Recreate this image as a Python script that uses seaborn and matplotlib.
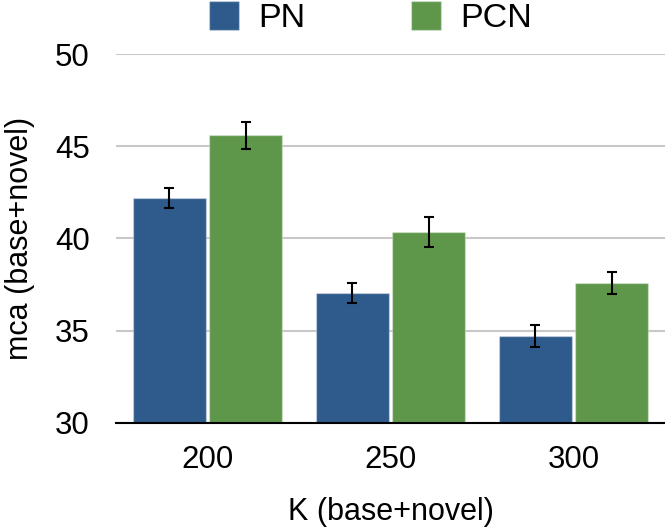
import pandas as pd
import seaborn as sns
from matplotlib import pyplot as plt

# values
k_values = ['200', '250', '300']
methods = ['PN', 'PCN']
pn_mca = [42.2, 37.05, 34.7]
pcn_mca = [45.6, 40.35, 37.6]
pn_err = [0.55, 0.55, 0.6]
pcn_err = [0.73, 0.82, 0.6]

colors = ['#2E5A8C', '#5E9749']

df = pd.DataFrame({
    'K': k_values * 2,
    'method': [methods[0]] * 3 + [methods[1]] * 3,
    'mca': pn_mca + pcn_mca,
    'err': pn_err + pcn_err,
})

sns.set_style('white')
plt.rcParams['font.family'] = ['Liberation Sans', 'DejaVu Sans']
plt.rcParams['text.color'] = 'black'
plt.rcParams['axes.labelcolor'] = 'black'
plt.rcParams['xtick.color'] = 'black'
plt.rcParams['ytick.color'] = 'black'

fig = plt.figure(figsize=(6.65, 5.29), dpi=100)
ax = fig.add_axes([0.1744, 0.2013, 0.8256, 0.6957])

ax.yaxis.grid(True, color='#c8c8c8', linewidth=1.5)
ax.set_axisbelow(True)

sns.barplot(data=df, x='K', y='mca', hue='method', palette=colors,
            saturation=1, width=0.84, gap=0.05, errorbar=None, ax=ax,
            edgecolor=(1, 1, 1, 0.35), linewidth=1)

# error bars on top of each bar
for cont, m in zip(ax.containers, methods):
    sub = df[df['method'] == m]
    xs = [p.get_x() + p.get_width() / 2 for p in cont.patches]
    ax.errorbar(xs, sub['mca'], yerr=sub['err'], fmt='none',
                ecolor='black', elinewidth=1.5, capsize=3.4, capthick=1.5)

ax.set_ylim(30, 50)
ax.set_xlim(-0.5, 2.5)
ax.set_yticks([30, 35, 40, 45, 50])
for s in ['top', 'right', 'left']:
    ax.spines[s].set_visible(False)
ax.spines['bottom'].set_color('black')
ax.spines['bottom'].set_linewidth(1.5)
ax.tick_params(axis='both', labelsize=22.5, length=0)
ax.tick_params(axis='x', pad=16)
ax.tick_params(axis='y', pad=19)
ax.set_xlabel('K (base+novel)', fontsize=22, labelpad=16)
ax.set_ylabel('mca (base+novel)', fontsize=22, labelpad=14)

ax.legend(loc='lower center', bbox_to_anchor=(0.463, 1.018), ncol=2,
          frameon=False, fontsize=24.5, handlelength=0.9, handleheight=0.9,
          columnspacing=3.1, handletextpad=0.55, borderaxespad=0)

fig.savefig('out.png', dpi=100)
